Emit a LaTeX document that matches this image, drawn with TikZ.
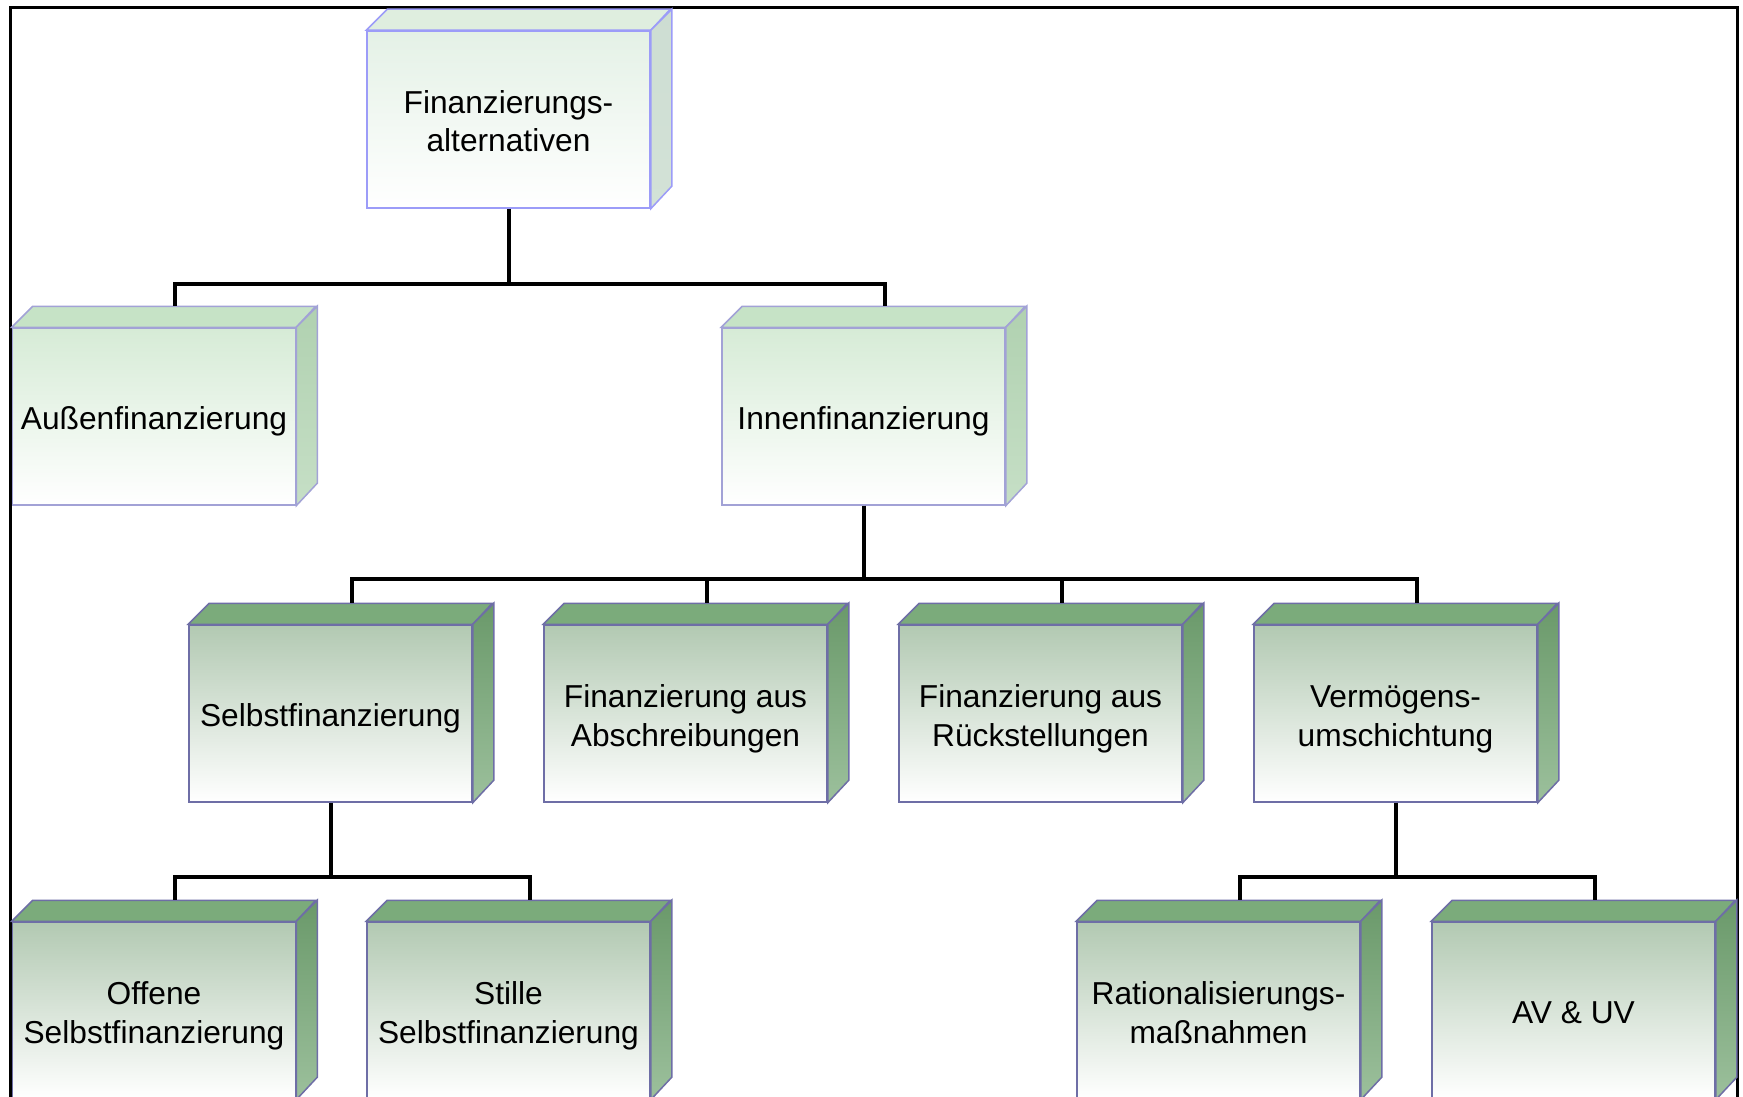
\documentclass[tikz,border=0pt]{standalone}
\usepackage{fontspec}
\setmainfont{Liberation Sans}
\newcommand\ta{\rule{0pt}{33pt}}
\newcommand\tz{\rule[-7pt]{0pt}{7pt}}
\begin{document}
\begin{tikzpicture}[x=1pt,y=-1pt,
  cube/.style={minimum width=283pt,minimum height=177pt,inner sep=0pt,align=center,
    font=\fontsize{31.7}{39}\selectfont,line width=1.5pt},
  lvlA/.style={cube,draw=borderA,top color=frontA,bottom color=white},
  lvlB/.style={cube,draw=borderB,top color=frontB,bottom color=white},
  lvlC/.style={cube,draw=borderC,top color=frontC,bottom color=white},
  conn/.style={line width=4pt,black},
]
\definecolor{borderA}{HTML}{9C9CF8}
\definecolor{frontA}{HTML}{E4F1E6}
\definecolor{topA}{HTML}{DFEEDF}
\definecolor{sideA}{HTML}{CDDDD2}
\definecolor{sideAb}{HTML}{D3E2D7}
\definecolor{borderB}{HTML}{A2A2D6}
\definecolor{frontB}{HTML}{D6EBD6}
\definecolor{topB}{HTML}{C6E3C6}
\definecolor{sideB}{HTML}{B0D1B0}
\definecolor{sideBb}{HTML}{C6DFC6}
\definecolor{borderC}{HTML}{6E6EA6}
\definecolor{frontC}{HTML}{B2C9B2}
\definecolor{topC}{HTML}{7BAB7B}
\definecolor{sideC}{HTML}{6A996A}
\definecolor{sideCb}{HTML}{9CC09C}
\useasboundingbox (0,0) rectangle (1743,1097);
\clip (0,0) rectangle (1743,1097);
\fill[white] (0,0) rectangle (1743,1097);
\draw[line width=3pt] (10,8) rectangle (1737,1120);

\newcommand\cubefaces[5]{%
  \filldraw[draw=#2,line width=1.5pt,fill=#3,line join=miter]
    (#1.north west) -- ++(21pt,21pt) -- ++(283pt,0pt) -- (#1.north east) -- cycle;
  \filldraw[draw=#2,line width=1.5pt,top color=#4,bottom color=#5,line join=miter]
    (#1.north east) -- ++(21pt,21pt) -- ++(0pt,-177pt) -- (#1.south east) -- cycle;
}

% level 1
\node[lvlA] (fa) at (508.5,119.5) {\ta Finanzierungs-\\alternativen\tz};
% level 2
\node[lvlB] (aus) at (154,416.5) {\ta Außenfinanzierung\tz};
\node[lvlB] (inn) at (863.5,416.5) {\ta Innenfinanzierung\tz};
% level 3
\node[lvlC] (selbst) at (330.5,713.5) {\ta Selbstfinanzierung\tz};
\node[lvlC] (abs) at (685.5,713.5) {\ta Finanzierung aus\\Abschreibungen\tz};
\node[lvlC] (rue) at (1040.5,713.5) {\ta Finanzierung aus\\Rückstellungen\tz};
\node[lvlC] (ver) at (1395.5,713.5) {\ta Vermögens-\\umschichtung\tz};
% level 4
\node[lvlC] (off) at (154,1010.5) {\ta Offene\\Selbstfinanzierung\tz};
\node[lvlC] (sti) at (508.5,1010.5) {\ta Stille\\Selbstfinanzierung\tz};
\node[lvlC] (rat) at (1218.5,1010.5) {\ta Rationalisierungs-\\maßnahmen\tz};
\node[lvlC] (avuv) at (1573.5,1010.5) {\ta AV \& UV\tz};

\cubefaces{fa}{borderA}{topA}{sideA}{sideAb}
\cubefaces{aus}{borderB}{topB}{sideB}{sideBb}
\cubefaces{inn}{borderB}{topB}{sideB}{sideBb}
\foreach \n in {selbst,abs,rue,ver,off,sti,rat,avuv}{\cubefaces{\n}{borderC}{topC}{sideC}{sideCb}}

% connectors
\foreach \c/\p/\y in {aus/fa/283.5,inn/fa/283.5,selbst/inn/579,abs/inn/579,rue/inn/579,ver/inn/579,off/selbst/877,sti/selbst/877,rat/ver/877,avuv/ver/877}{
  \coordinate (hy) at (0,\y);
  \coordinate (ct) at ([shift={(21pt,21pt)}]\c.north);
  \draw[conn] (\p.south) -- (\p.south |- hy) -| (ct);
}
\end{tikzpicture}
\end{document}
